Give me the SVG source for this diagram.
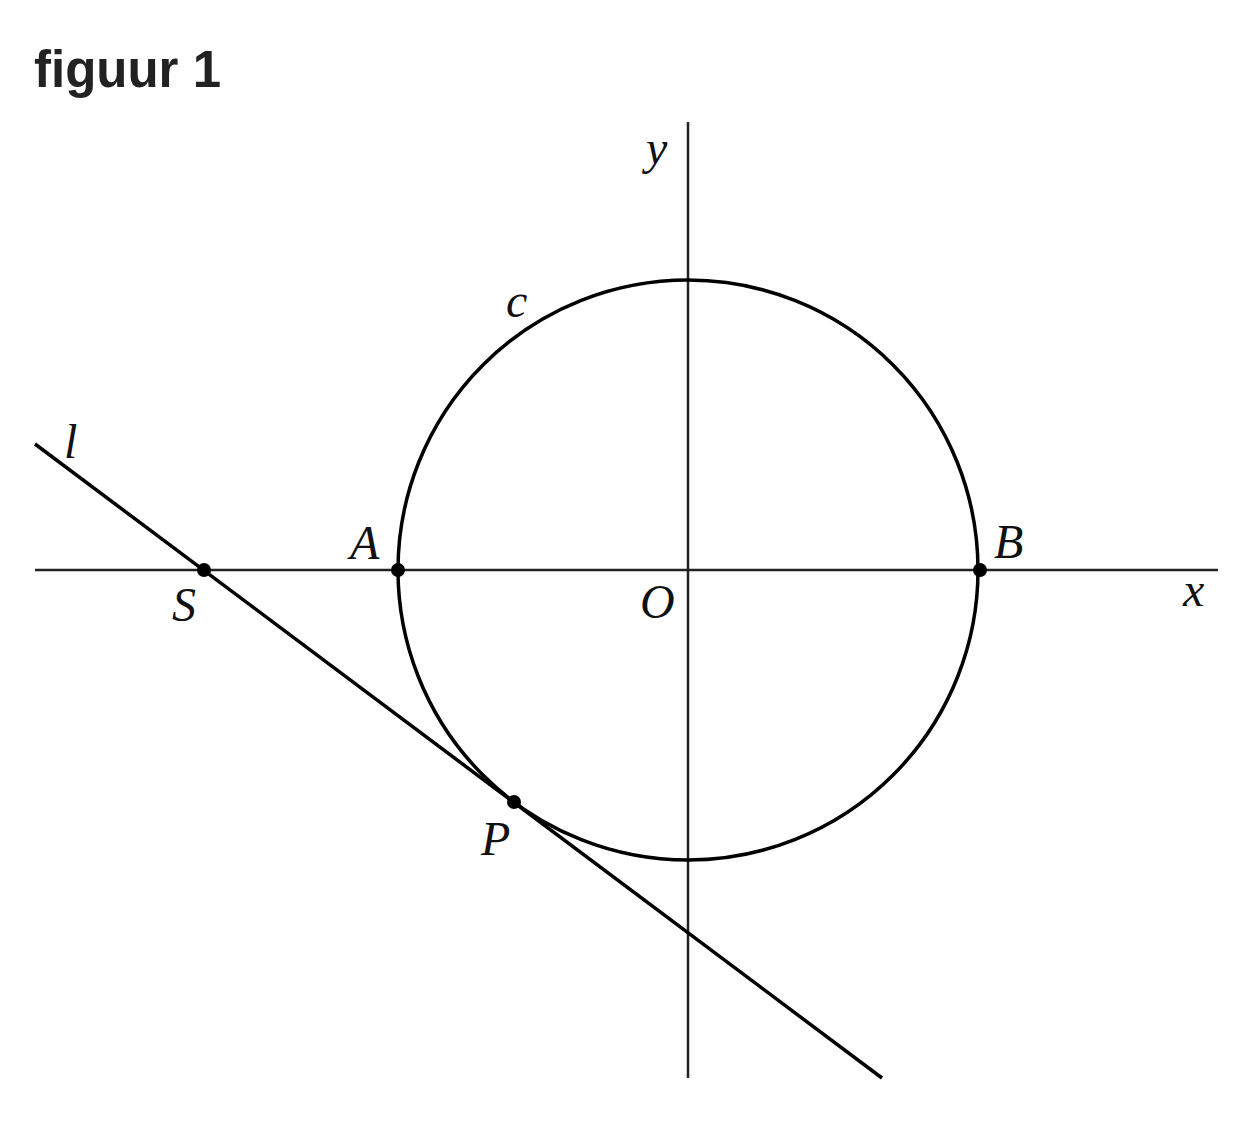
<svg xmlns="http://www.w3.org/2000/svg" width="1252" height="1139" viewBox="0 0 1252 1139">
<style>
.title{font-family:"Liberation Sans",Arial,sans-serif;font-weight:bold;font-size:51px;fill:#222}
.lbl{font-family:"Liberation Serif","Times New Roman",serif;font-style:italic;font-size:48px;fill:#111}
.axis{stroke:#222;stroke-width:2.5;fill:none}
.curve{stroke:#000;stroke-width:3.5;fill:none}
.pt{fill:#000}
</style>
<rect width="1252" height="1139" fill="#fff"/>
<text class="title" x="34" y="87">figuur 1</text>
<g id="axes">
<line class="axis" x1="35" y1="570" x2="1218" y2="570"/>
<line class="axis" x1="688" y1="122" x2="688" y2="1078"/>
</g>
<g id="circle-c">
<circle class="curve" cx="688" cy="570" r="290"/>
</g>
<g id="line-l">
<line class="curve" x1="35" y1="444" x2="882" y2="1078"/>
</g>
<g id="points">
<circle class="pt" cx="204" cy="570" r="7"/>
<circle class="pt" cx="398" cy="570" r="7"/>
<circle class="pt" cx="980" cy="570" r="7"/>
<circle class="pt" cx="514" cy="802" r="7"/>
</g>
<g id="labels">
<text class="lbl" x="646" y="164">y</text>
<text class="lbl" x="506" y="317">c</text>
<text class="lbl" x="64" y="458">l</text>
<text class="lbl" x="350" y="559">A</text>
<text class="lbl" x="994" y="558">B</text>
<text class="lbl" x="172" y="621">S</text>
<text class="lbl" x="640" y="618">O</text>
<text class="lbl" x="1183" y="606">x</text>
<text class="lbl" x="481" y="855">P</text>
</g>
</svg>
